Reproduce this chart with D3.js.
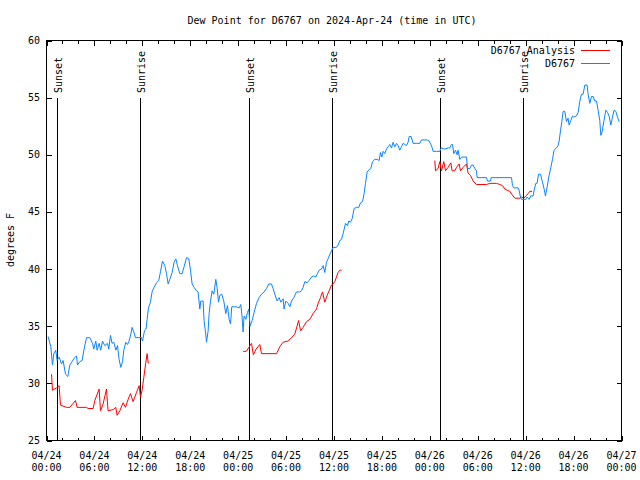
<!DOCTYPE html>
<html><head><meta charset="utf-8">
<script src="https://cdn.jsdelivr.net/npm/d3@7/dist/d3.min.js"></script>
<style>
body{margin:0;background:#fff}
text{font-family:"DejaVu Sans Mono",monospace;font-size:10px;fill:#000}
</style>
</head><body>
<svg id="chart" width="640" height="480"></svg>
<script>
// Hours since 2024-04-24 00:00 UTC
const blueHours = [0.20,0.54,0.75,0.91,1.16,1.33,1.58,1.88,2.08,2.38,2.67,2.92,3.21,3.46,3.76,3.88,4.17,4.46,4.71,5.01,5.42,5.76,5.92,6.17,6.34,6.59,6.80,7.01,7.30,7.64,7.80,8.01,8.21,8.43,8.68,8.89,9.09,9.30,9.52,9.68,9.93,10.14,10.34,10.56,10.72,10.93,11.14,11.47,11.90,12.02,12.27,12.45,12.60,12.77,13.02,13.22,13.47,13.77,14.06,14.28,14.53,14.81,15.03,15.23,15.44,15.73,15.98,16.19,16.40,16.69,16.98,17.23,17.53,17.82,18.03,18.23,18.48,18.78,18.98,19.20,19.32,19.61,19.73,19.91,20.04,20.24,20.36,20.54,20.74,20.95,21.20,21.36,21.54,21.70,21.95,22.20,22.45,22.66,22.87,23.04,23.20,23.37,23.79,24.12,24.33,24.49,24.62,24.74,24.96,25.17,25.33,25.49,25.75,26.00,26.30,26.62,26.92,27.25,27.55,27.84,28.17,28.37,28.59,28.88,29.13,29.34,29.63,29.75,29.97,30.25,30.47,30.68,30.97,31.30,31.72,31.93,32.13,32.34,32.63,32.88,33.18,33.47,33.72,33.93,34.13,34.43,34.64,34.85,35.06,35.26,35.48,35.69,35.89,36.31,36.51,36.73,36.94,37.14,37.44,37.69,37.85,38.07,38.27,38.52,38.82,39.11,39.32,39.57,39.77,39.94,40.15,40.40,40.61,40.82,41.11,41.40,41.65,41.82,41.99,42.15,42.36,42.57,42.78,42.99,43.20,43.40,43.61,43.83,44.03,44.24,44.45,44.65,44.87,45.08,45.28,45.41,45.66,45.91,46.33,46.75,46.96,47.37,47.66,47.91,48.21,48.41,48.84,49.25,49.41,49.87,50.29,50.50,50.71,50.84,51.00,51.21,51.42,51.54,51.75,51.97,52.17,52.59,52.72,53.01,53.22,53.42,53.63,53.84,53.92,55.10,55.22,55.60,55.67,58.23,58.35,58.51,59.05,59.18,59.35,59.48,60.02,60.18,60.43,60.64,60.93,61.06,61.27,61.43,61.61,61.86,62.11,62.31,62.48,62.69,62.94,63.15,63.36,63.56,63.86,64.06,64.19,64.36,64.53,64.69,64.90,65.11,65.31,65.44,65.65,65.87,66.03,66.37,66.57,66.78,66.99,67.19,67.41,67.69,67.82,68.03,68.24,68.45,68.66,68.87,69.07,69.28,69.41,69.57,69.78,70.04,70.25,70.45,70.66,70.87,71.07,71.29,71.50,71.70];
const blueValues = [34.1,33.2,31.6,32.6,32.9,32.0,32.3,31.7,32.0,30.8,30.6,31.6,31.9,32.2,32.4,31.6,31.9,32.0,33.0,34.0,34.0,33.5,33.0,33.7,32.9,33.5,32.9,33.7,33.3,33.5,33.0,34.2,33.5,33.6,32.9,33.3,32.1,31.4,31.9,32.9,33.6,33.4,33.7,34.3,34.9,34.5,34.0,34.0,34.0,33.7,34.6,34.7,35.6,36.6,37.1,38.0,38.4,38.8,39.0,39.8,40.7,40.3,39.6,38.7,39.1,39.7,40.6,40.9,40.3,39.6,39.6,40.2,41.0,40.9,39.9,38.7,38.4,38.1,38.0,36.5,37.2,37.2,35.5,34.5,33.6,34.6,36.1,37.2,38.1,37.8,39.1,38.4,37.1,37.7,37.8,37.2,36.1,36.8,35.6,35.2,36.7,36.7,36.7,36.6,36.9,35.8,34.5,35.9,35.6,36.2,36.5,35.0,35.5,36.2,37.0,37.5,37.8,38.0,38.3,38.7,38.7,38.3,37.8,37.2,37.5,37.1,37.4,36.5,37.2,37.0,36.7,37.2,37.5,38.0,38.0,38.1,38.4,38.9,38.8,39.0,39.3,39.4,39.3,39.6,39.9,40.0,40.3,39.7,40.6,40.9,41.3,41.6,41.9,41.9,42.1,42.5,42.6,43.1,44.0,43.8,44.2,44.1,44.4,45.3,45.4,45.4,45.8,45.9,46.6,47.5,48.5,48.7,48.8,49.4,49.6,49.6,49.5,50.2,49.8,50.3,50.1,50.5,50.7,50.9,50.6,51.1,50.7,51.0,50.8,50.4,50.7,51.0,50.9,50.8,51.1,51.6,51.6,51.0,51.0,51.0,51.3,51.3,51.3,51.2,50.8,50.3,50.3,50.3,50.6,50.5,50.6,50.6,50.9,50.9,50.1,50.4,50.0,50.4,49.6,49.8,49.8,49.8,48.8,48.8,49.1,49.1,48.8,48.6,48.0,48.0,47.7,47.7,48.0,48.0,47.3,47.1,47.1,46.9,46.3,46.1,46.1,46.3,46.1,46.4,46.4,46.9,47.5,47.5,48.3,48.3,47.6,47.0,46.4,47.2,48.2,48.9,49.6,50.4,50.6,50.8,51.2,52.1,52.9,53.8,53.8,52.9,53.2,52.6,53.0,53.4,53.3,53.4,53.7,54.7,55.3,55.3,56.1,56.1,55.3,54.5,55.1,55.1,54.7,54.7,53.9,53.0,51.7,52.0,52.9,53.9,53.7,53.4,52.6,53.3,53.9,53.8,53.3,52.9];

// null marks a gap in the analysis series
const redHours = [0.63,0.75,1.25,1.58,1.75,2.50,2.92,3.63,3.83,5.01,5.21,5.84,6.05,6.59,6.76,7.09,7.51,7.71,8.34,8.68,8.84,9.18,9.59,9.89,10.22,10.52,10.84,11.27,11.60,11.77,11.97,12.18,12.43,12.60,12.72,12.87,
  18.0,
  24.62,25.02,25.49,25.67,25.90,26.25,26.71,26.92,28.80,29.21,29.63,30.25,30.68,31.09,31.57,31.81,32.13,32.56,32.97,33.38,33.81,34.01,34.31,34.56,34.85,35.14,35.39,35.69,35.89,36.10,36.31,36.51,36.73,36.94,
  42.0,
  48.62,48.71,49.04,49.25,49.46,49.75,49.96,50.29,50.63,50.79,51.13,51.34,51.67,51.84,52.17,52.59,52.79,53.09,53.42,53.84,55.10,55.51,56.35,56.76,57.10,57.39,57.68,58.02,58.31,58.65,59.27,59.48,59.77,60.02,60.31,60.52,60.81];
const redValues = [30.8,29.4,29.6,29.8,28.1,27.9,27.9,28.5,27.9,27.9,27.8,27.8,28.5,29.5,27.6,28.2,29.5,27.6,27.7,27.9,27.2,27.6,28.3,27.9,28.6,29.1,28.4,29.2,29.8,28.8,29.4,30.5,31.8,32.6,31.8,31.8,
  null,
  32.8,32.8,33.3,33.5,32.5,33.0,33.4,32.6,32.6,33.2,33.6,33.7,34.0,34.3,35.5,34.6,34.9,35.4,35.6,36.1,36.5,37.0,37.5,38.0,37.1,37.7,38.1,38.6,38.7,38.9,39.3,39.7,39.9,39.9,
  null,
  49.5,48.6,48.8,49.4,48.6,49.4,48.6,48.9,49.3,48.6,48.6,48.9,49.2,48.6,48.9,49.2,48.4,48.2,47.7,47.4,47.4,47.5,47.5,47.4,47.3,47.0,46.9,46.8,46.5,46.2,46.2,46.3,46.2,46.4,46.6,46.8,46.8];

const sunHours = [1.33,11.72,25.37,35.69,49.29,59.68];
const sunLabels = ["Sunset","Sunrise","Sunset","Sunrise","Sunset","Sunrise"];
const yTicks = [25,30,35,40,45,50,55,60];
const seriesNames = ["D6767 Analysis","D6767"];
const seriesColors = ["#ff0000","#0a84ff"];
const titleText = "Dew Point for D6767 on 2024-Apr-24 (time in UTC)";
const yLabel = "degrees F";

const start = Date.UTC(2024,3,24,0,0);
const toDate = h => new Date(start + h*3600000);

const svg = d3.select("#chart");
const L = 46.5, R = 621.5, T = 40.5, B = 440.5;
const x = d3.scaleUtc().domain([toDate(0), toDate(72)]).range([L, R]);
const y = d3.scaleLinear().domain([25, 60]).range([B, T]);

// title
svg.append("text").attr("x", 332).attr("y", 24).attr("text-anchor", "middle").text(titleText);
// y label
svg.append("text").attr("transform", "translate(14,240) rotate(-90)").attr("text-anchor", "middle").text(yLabel);

// sun lines
const sun = svg.append("g");
sunHours.forEach((h, i) => {
  const px = Math.round(x(toDate(h))) + 0.5;
  sun.append("line").attr("x1", px).attr("x2", px).attr("y1", 98).attr("y2", B)
    .attr("stroke", "#000").attr("stroke-width", 1).attr("shape-rendering", "crispEdges");
  sun.append("text").attr("transform", `translate(${px},93) rotate(-90)`).attr("y", 4)
    .attr("text-anchor", "start").text(sunLabels[i]);
});

// axes: inward ticks, mirrored
function styleAxis(g){ g.select(".domain").remove(); g.selectAll("line").attr("stroke","#000").attr("shape-rendering","crispEdges"); g.selectAll("text").remove(); }
const minorX = d3.utcHour.every(2), majorX = d3.utcHour.every(6);
svg.append("g").attr("transform", `translate(0,${B})`).call(d3.axisBottom(x).ticks(minorX).tickSize(-3)).call(styleAxis);
svg.append("g").attr("transform", `translate(0,${T})`).call(d3.axisTop(x).ticks(minorX).tickSize(-3)).call(styleAxis);
svg.append("g").attr("transform", `translate(0,${B})`).call(d3.axisBottom(x).ticks(majorX).tickSize(-5)).call(styleAxis);
svg.append("g").attr("transform", `translate(0,${T})`).call(d3.axisTop(x).ticks(majorX).tickSize(-5)).call(styleAxis);
svg.append("g").attr("transform", `translate(${L},0)`).call(d3.axisLeft(y).tickValues(yTicks).tickSize(-5)).call(styleAxis);
svg.append("g").attr("transform", `translate(${R},0)`).call(d3.axisRight(y).tickValues(yTicks).tickSize(-5)).call(styleAxis);

// x tick labels (two lines)
const fmtD = d3.utcFormat("%m/%d"), fmtT = d3.utcFormat("%H:%M");
x.ticks(majorX).forEach(d => {
  const t = svg.append("text").attr("text-anchor", "middle");
  t.append("tspan").attr("x", x(d)).attr("y", 458.5).text(fmtD(d));
  t.append("tspan").attr("x", x(d)).attr("y", 471).text(fmtT(d));
});
// y tick labels
yTicks.forEach(v => {
  svg.append("text").attr("x", 40).attr("y", y(v)).attr("dy", "0.35em").attr("text-anchor", "end").text(v);
});

// border
svg.append("rect").attr("x", L).attr("y", T).attr("width", R - L).attr("height", B - T)
  .attr("fill", "none").attr("stroke", "#000").attr("shape-rendering", "crispEdges");

// data lines
const line = d3.line().defined(d => d[1] !== null).x(d => x(toDate(d[0]))).y(d => y(d[1]));
const redData = redHours.map((h, i) => [h, redValues[i]]);
const blueData = blueHours.map((h, i) => [h, blueValues[i]]);
svg.append("path").datum(redData).attr("d", line).attr("fill", "none").attr("stroke", seriesColors[0]).attr("stroke-width", 1);
svg.append("path").datum(blueData).attr("d", line).attr("fill", "none").attr("stroke", seriesColors[1]).attr("stroke-width", 1);

// legend
seriesNames.forEach((n, i) => {
  const yy = 50.5 + i * 13;
  svg.append("text").attr("x", 575).attr("y", yy).attr("dy", "0.35em").attr("text-anchor", "end").text(n);
  svg.append("line").attr("x1", 581).attr("x2", 610).attr("y1", yy).attr("y2", yy)
    .attr("stroke", seriesColors[i]).attr("shape-rendering", "crispEdges");
});
</script>
</body></html>
